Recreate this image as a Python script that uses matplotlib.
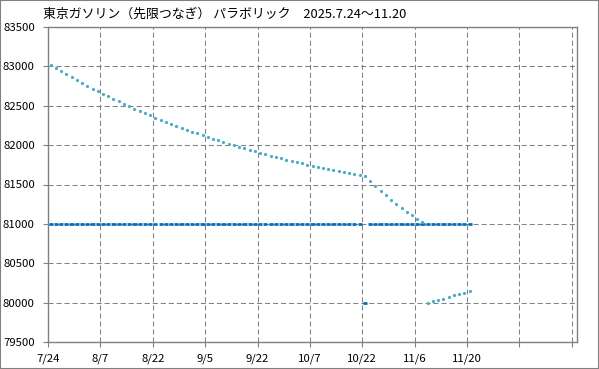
import matplotlib
matplotlib.use("Agg")
import numpy as np
from matplotlib import pyplot as plt
from matplotlib.patches import Rectangle

plt.rcParams['font.family'] = ['Noto Sans CJK JP', 'DejaVu Sans']

title = "東京ガソリン（先限つなぎ） パラボリック　2025.7.24～11.20"

tick_labels = ["7/24", "8/7", "8/22", "9/5", "9/22", "10/7", "10/22", "11/6", "11/20"]

# closing price, one value per trading day (7/24 .. 11/20)
price = [
    81000, 81000, 81000, 81000, 81000, 81000, 81000, 81000, 81000, 81000,
    81000, 81000, 81000, 81000, 81000, 81000, 81000, 81000, 81000, 81000,
    81000, 81000, 81000, 81000, 81000, 81000, 81000, 81000, 81000, 81000,
    81000, 81000, 81000, 81000, 81000, 81000, 81000, 81000, 81000, 81000,
    81000, 81000, 81000, 81000, 81000, 81000, 81000, 81000, 81000, 81000,
    81000, 81000, 81000, 81000, 81000, 81000, 81000, 81000, 81000, 81000,
    80000, 81000, 81000, 81000, 81000, 81000, 81000, 81000, 81000, 81000,
    81000, 81000, 81000, 81000, 81000, 81000, 81000, 81000, 81000, 81000,
    81000,
]

# parabolic SAR
sar = [
    83023, 82980, 82941, 82903, 82865, 82827, 82788, 82750, 82712, 82686,
    82653, 82622, 82584, 82559, 82520, 82495, 82457, 82431, 82406, 82383,
    82344, 82319, 82296, 82270, 82245, 82219, 82194, 82168, 82156, 82130,
    82100, 82079, 82061, 82041, 82015, 82003, 81977, 81964, 81939, 81926,
    81900, 81888, 81862, 81849, 81837, 81811, 81798, 81786, 81773, 81747,
    81735, 81722, 81709, 81696, 81684, 81671, 81658, 81645, 81633, 81620,
    81607, 81543, 81480, 81416, 81365, 81301, 81250, 81199, 81148, 81110,
    81059, 81020, 80000, 80017, 80036, 80051, 80077, 80091, 80115, 80128,
    80142,
]

W, H = 599, 369
fig = plt.figure(figsize=(W / 100, H / 100), dpi=100)
ax = fig.add_axes([48 / W, 1 - 342 / H, (577 - 48) / W, (342 - 27) / H])

idx = np.arange(len(price))
ax.hlines(price, idx + 0.1, idx + 0.9, colors='#0070C0', linewidth=2.0, zorder=3)
ax.plot(idx + 0.5, sar, linestyle='none', marker='o', markersize=2.3,
        color='#4BACC6', markeredgewidth=0, zorder=4)

ax.set_xlim(0, 101)
ax.set_ylim(79500, 83500)
ax.set_xticks(np.arange(0, 101, 10))
ax.set_xticklabels(tick_labels + [""] * 2)
ax.set_yticks(np.arange(79500, 83501, 500))

grey = '#808080'
ax.grid(True, color=grey, linewidth=0.75, linestyle=(0, (4.8, 2.9)))
for s in ax.spines.values():
    s.set_color(grey)
    s.set_linewidth(1.0)
ax.tick_params(direction='out', length=3.5, color=grey, labelsize=8.2, pad=5)
ax.tick_params(axis='y', pad=6)

fig.text(43 / W, 1 - 14 / H, title, fontsize=9.3, ha='left', va='center')
fig.patches.append(Rectangle((0, 0), 1, 1, transform=fig.transFigure,
                             fill=False, edgecolor=grey, linewidth=1.5))

fig.savefig("out.png", dpi=100)
